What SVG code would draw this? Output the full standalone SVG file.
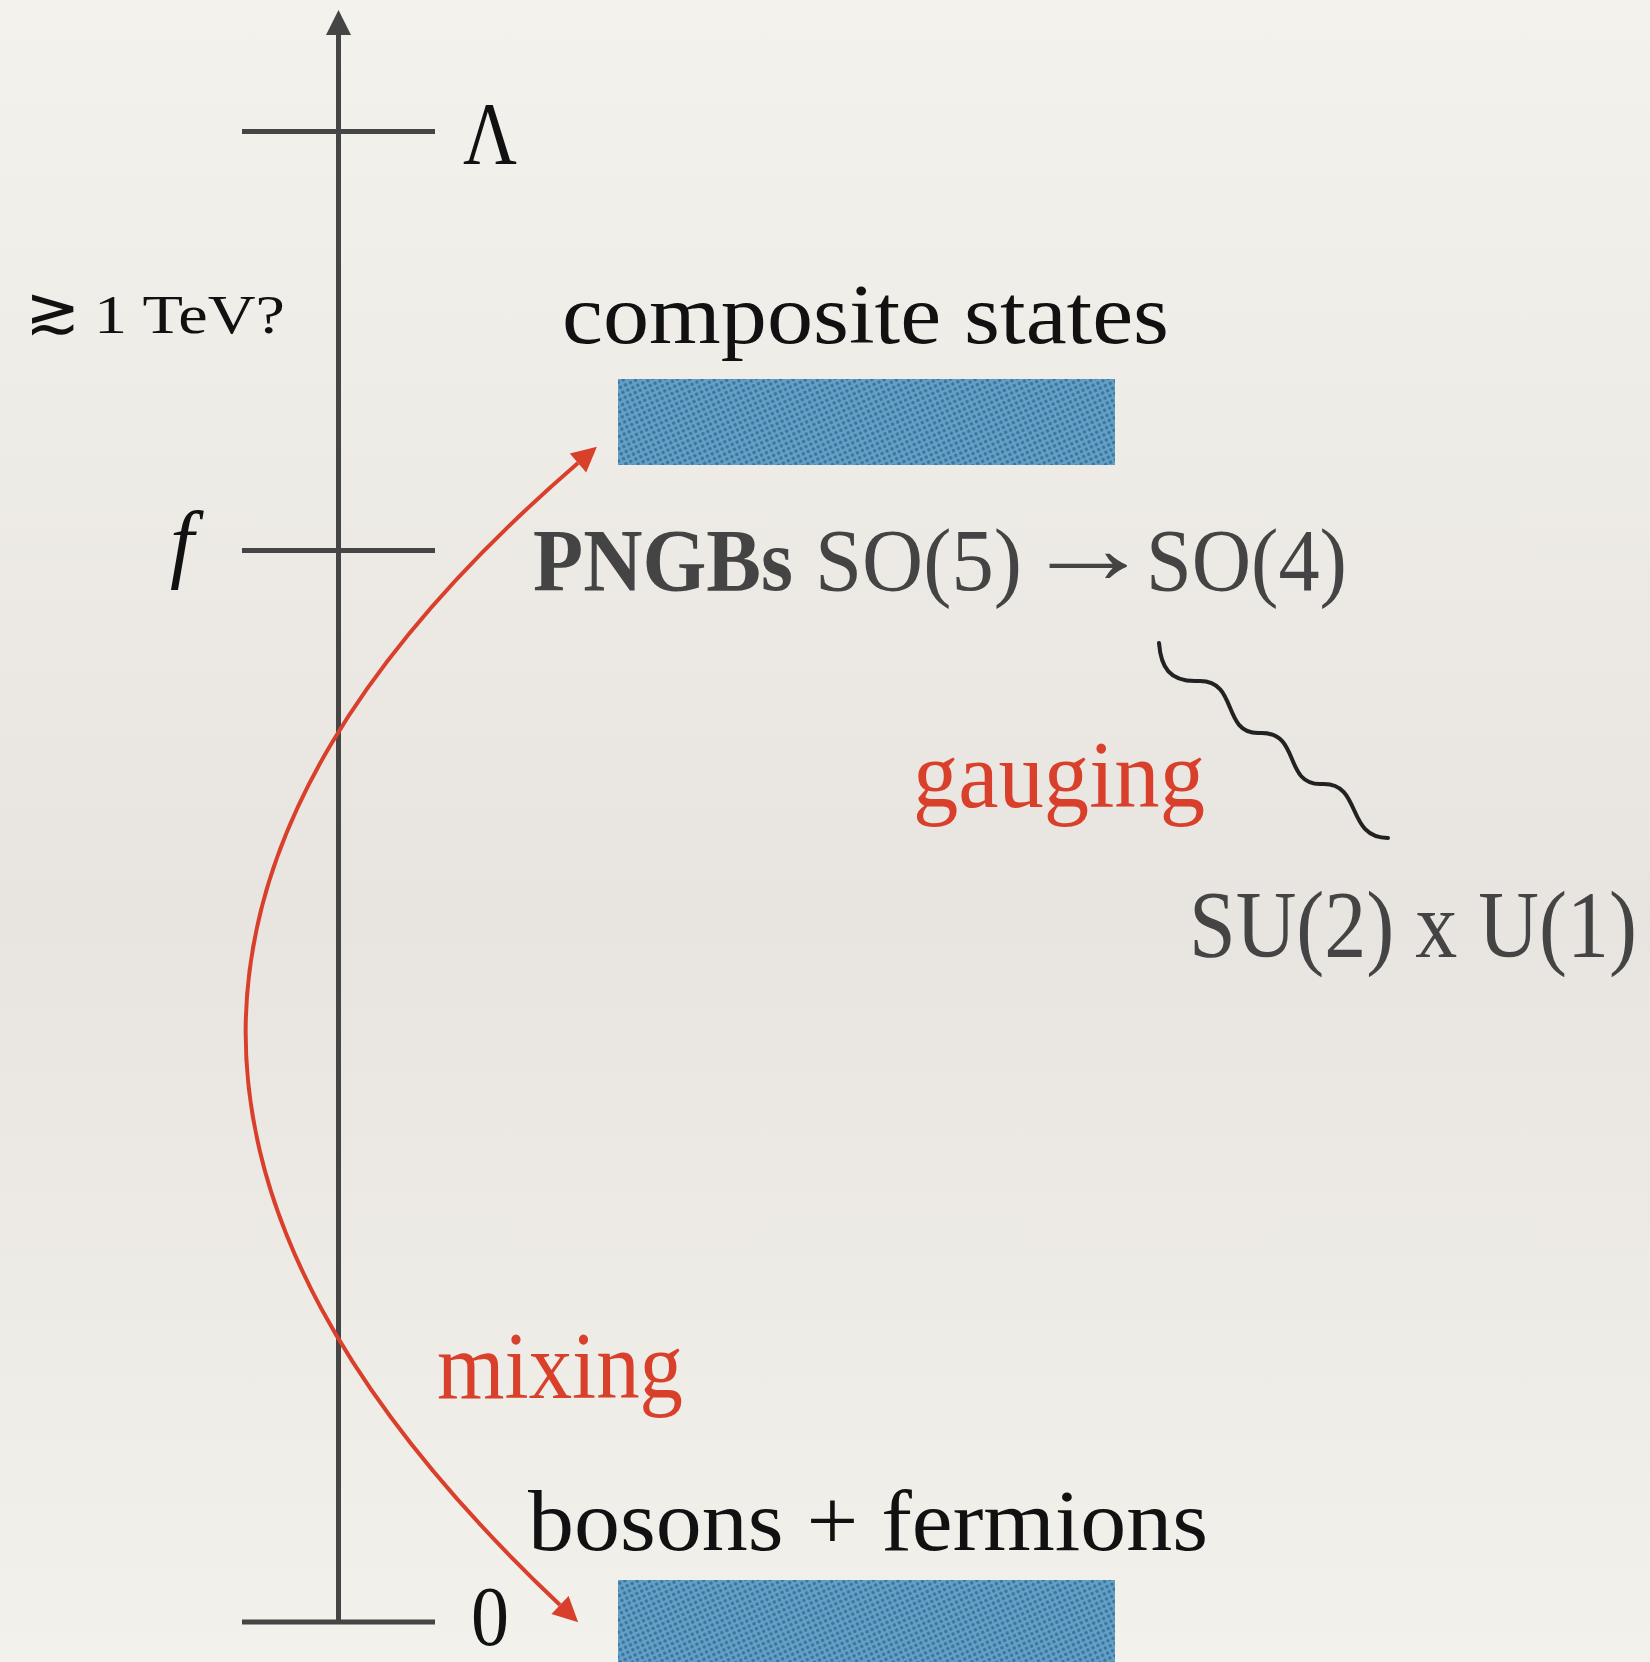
<svg xmlns="http://www.w3.org/2000/svg" width="1650" height="1662" viewBox="0 0 1650 1662">
  <defs>
    <linearGradient id="paper" x1="0" y1="0" x2="0" y2="1">
      <stop offset="0" stop-color="#f4f2ed"/>
      <stop offset="0.55" stop-color="#e8e5e0"/>
      <stop offset="1" stop-color="#f3f1ec"/>
    </linearGradient>
    <pattern id="dots" width="5.5" height="5.5" patternUnits="userSpaceOnUse" patternTransform="rotate(-25)">
      <rect width="5.5" height="5.5" fill="#64a0c7"/>
      <circle cx="2.75" cy="2.75" r="1.8" fill="#3b759d"/>
    </pattern>
    <marker id="axisHead" markerUnits="userSpaceOnUse" markerWidth="30" markerHeight="30" refX="0" refY="12.5" orient="auto" overflow="visible">
      <path d="M0,0 L25,12.5 L0,25 Z" fill="#454545"/>
    </marker>
    <marker id="redHead" markerUnits="userSpaceOnUse" markerWidth="30" markerHeight="30" refX="0" refY="12.5" orient="auto-start-reverse" overflow="visible">
      <path d="M0,0 L25,12.5 L0,25 Z" fill="#d9402b"/>
    </marker>
    <style>
      .axis { stroke: #454545; stroke-width: 5; fill: none; }
      .cm { font-family: "Liberation Serif", "DejaVu Serif", serif; fill: #111111; }
      .bod { font-family: "Liberation Serif", "DejaVu Serif", serif; fill: #444444; }
      .red { font-family: "Liberation Serif", "DejaVu Serif", serif; fill: #d9402b; }
      .box { fill: url(#dots); }
    </style>
  </defs>

  <rect x="0" y="0" width="1650" height="1662" fill="url(#paper)"/>

  <g id="connectors">
    <line class="axis" x1="338.5" y1="1624" x2="338.5" y2="35" marker-end="url(#axisHead)"/>
    <path id="mixing-arrow" d="M 578 463 C 144 838 132 1200 560 1605" fill="none" stroke="#d9402b" stroke-width="4" marker-start="url(#redHead)" marker-end="url(#redHead)"/>
    <path id="gauging-wave" d="M 1159 643 C 1161 668 1170 681 1195 681 L 1200 681 C 1238 681 1222 733 1258 733 L 1262 733 C 1300 733 1284 784 1320 784 L 1324 784 C 1362 784 1346 838 1388 838" fill="none" stroke="#222222" stroke-width="4" stroke-linecap="round"/>
  </g>

  <g id="tick-lambda">
    <line class="axis" x1="242" y1="131.5" x2="435" y2="131.5"/>
    <text class="cm" x="463" y="163" font-size="88" textLength="54" lengthAdjust="spacingAndGlyphs">Λ</text>
  </g>

  <g id="tick-f">
    <line class="axis" x1="242" y1="550.5" x2="435" y2="550.5"/>
    <text class="cm" x="170" y="571" font-size="86" font-style="italic">f</text>
  </g>

  <g id="tick-zero">
    <line class="axis" x1="242" y1="1622" x2="435" y2="1622"/>
    <text class="cm" x="471" y="1645" font-size="84" textLength="38" lengthAdjust="spacingAndGlyphs">0</text>
  </g>

  <g id="scale-label">
    <text class="cm" font-size="54"><tspan x="25" y="333" font-size="66" font-family="DejaVu Serif, serif">≳</tspan><tspan x="94" y="333" textLength="191" lengthAdjust="spacingAndGlyphs">1 TeV?</tspan></text>
  </g>

  <g id="composite-states">
    <text class="cm" x="562" y="343" font-size="84" textLength="607" lengthAdjust="spacingAndGlyphs">composite states</text>
    <rect class="box" x="618" y="379" width="497" height="86"/>
  </g>

  <g id="pngbs">
    <text class="bod" x="533" y="590" font-size="88" font-weight="bold" textLength="260" lengthAdjust="spacingAndGlyphs">PNGBs</text>
    <text class="bod" x="815" y="590" font-size="88" textLength="207" lengthAdjust="spacingAndGlyphs">SO(5)</text>
    <text class="bod" transform="translate(1023 583) scale(1.45 1.15)" x="0" y="0" font-size="90" font-family="DejaVu Sans, sans-serif">→</text>
    <text class="bod" x="1146" y="590" font-size="88" textLength="201" lengthAdjust="spacingAndGlyphs">SO(4)</text>
  </g>

  <g id="gauging">
    <text class="red" x="913" y="807" font-size="95" textLength="292" lengthAdjust="spacingAndGlyphs">gauging</text>
  </g>

  <g id="su2u1">
    <text class="bod" transform="translate(1189 957) scale(0.875 1)" x="0" y="0" font-size="96">SU(2) x U(1)</text>
  </g>

  <g id="mixing">
    <text class="red" x="437" y="1398" font-size="95" textLength="246" lengthAdjust="spacingAndGlyphs">mixing</text>
  </g>

  <g id="bosons-fermions">
    <text class="cm" x="528" y="1550" font-size="86" textLength="680" lengthAdjust="spacingAndGlyphs">bosons + fermions</text>
    <rect class="box" x="618" y="1580" width="497" height="82"/>
  </g>
</svg>
